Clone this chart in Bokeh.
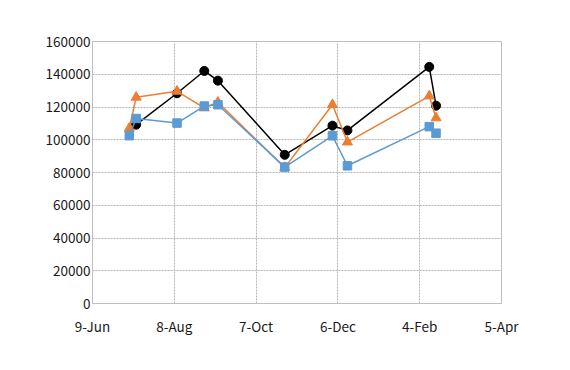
import pandas as pd
from bokeh.plotting import figure
from bokeh.models import Range1d, FixedTicker, BasicTickFormatter
from bokeh.embed import file_html
from bokeh.resources import INLINE

start_date = "2018-06-09"
end_date = "2019-04-05"
dates = ["2018-07-06", "2018-07-11", "2018-08-10", "2018-08-30", "2018-09-09",
         "2018-10-28", "2018-12-02", "2018-12-13", "2019-02-11", "2019-02-16"]
black_dates = dates[1:]
black_values = [109200, 128400, 142000, 136100, 90800, 108600, 105700, 144500, 120800]
orange_values = [107000, 125900, 129600, 119400, 122900, 83000, 121400, 98600, 126700, 113300]
blue_values = [102500, 113000, 110200, 120600, 121400, 83300, 102400, 84100, 108000, 104000]
tick_dates = ["2018-06-09", "2018-08-08", "2018-10-07", "2018-12-06", "2019-02-04", "2019-04-05"]
tick_labels = ["9-Jun", "8-Aug", "7-Oct", "6-Dec", "4-Feb", "5-Apr"]
y_ticks = [0, 20000, 40000, 60000, 80000, 100000, 120000, 140000, 160000]

t0 = pd.Timestamp(start_date)


def to_days(ds):
    return [(pd.Timestamp(d) - t0).days for d in ds]


x_all = to_days(dates)
x_black = to_days(black_dates)
x_ticks = to_days(tick_dates)
x_end = to_days([end_date])[0]

FONT = "Noto Sans CJK JP"
GRID = "#B4B4B4"
FRAME = "#BFBFBF"

p = figure(frame_width=409, frame_height=262,
           min_border_left=92, min_border_right=53, min_border_top=41, min_border_bottom=51,
           x_range=Range1d(0, x_end), y_range=Range1d(0, y_ticks[-1]),
           output_backend="svg", toolbar_location=None)
p.background_fill_color = "white"
p.border_fill_color = "white"
p.outline_line_color = FRAME
p.outline_line_width = 1

p.xaxis.ticker = FixedTicker(ticks=x_ticks)
p.xaxis.major_label_overrides = {t: l for t, l in zip(x_ticks, tick_labels)}
p.yaxis.ticker = FixedTicker(ticks=y_ticks)
p.yaxis.formatter = BasicTickFormatter(use_scientific=False)

for ax in (p.xaxis[0], p.yaxis[0]):
    ax.axis_line_color = FRAME
    ax.major_tick_out = 0
    ax.major_tick_in = 0
    ax.minor_tick_out = 0
    ax.minor_tick_in = 0
    ax.major_label_text_font = FONT
    ax.major_label_text_font_size = "13.5px"
    ax.major_label_text_color = "#1a1a1a"
p.xaxis.major_label_standoff = 12
p.yaxis.major_label_standoff = 2

p.xgrid.ticker = FixedTicker(ticks=x_ticks)
p.ygrid.ticker = FixedTicker(ticks=y_ticks)
for g in (p.xgrid[0], p.ygrid[0]):
    g.grid_line_color = GRID
    g.grid_line_dash = "2 1"
    g.grid_line_width = 1

BLACK = "#000000"
ORANGE = "#ED7D31"
BLUE = "#5B9BD5"

p.line(x_black, black_values, line_color=BLACK, line_width=1.5)
p.scatter(x_black, black_values, marker="circle", size=9, fill_color=BLACK, line_color=BLACK)

p.line(x_all, orange_values, line_color=ORANGE, line_width=1.5)
p.scatter(x_all, orange_values, marker="triangle", size=10, fill_color=ORANGE, line_color=ORANGE)

p.line(x_all, blue_values, line_color=BLUE, line_width=1.5)
p.scatter(x_all, blue_values, marker="square", size=8.5, fill_color=BLUE, line_color=BLUE)

open("out.html", "w").write(file_html(p, INLINE))
